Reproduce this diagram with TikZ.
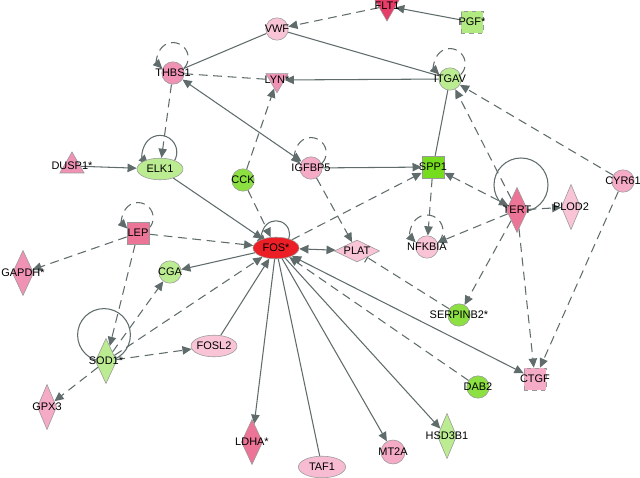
\documentclass[tikz,border=0pt]{standalone}
\usepackage{fontspec}
\setmainfont{Liberation Sans}
\usetikzlibrary{arrows.meta,shapes.geometric,backgrounds}
\definecolor{fosred}{RGB}{236,30,38}
\definecolor{fltred}{RGB}{230,62,104}
\definecolor{pkD}{RGB}{236,116,150}
\definecolor{pkC}{RGB}{240,146,180}
\definecolor{pkB}{RGB}{245,170,198}
\definecolor{pkA}{RGB}{248,196,214}
\definecolor{gnA}{RGB}{188,236,146}
\definecolor{gnB}{RGB}{140,224,66}
\definecolor{gnC}{RGB}{118,220,30}
\definecolor{edgegray}{RGB}{96,108,108}
% self loop above a node: [line style]{node}{radius}
\newcommand{\selfloop}[3][dl]{\draw[#1,->] ([yshift=#3]#2.center) ++(-45:#3) arc[start angle=-45,end angle=225,radius=#3];}

\begin{document}
\begin{tikzpicture}[x=0.025cm,y=-0.025cm,font=\fontsize{7.8}{9}\selectfont,
  >={Triangle[length=2.3mm,width=2.1mm]},
  g/.style={draw=black!40,line width=0.4pt,inner sep=0pt,label={[inner sep=0pt]center:#1}},
  circ/.style={g=#1,circle,minimum size=5.6mm},
  ell/.style={g=#1,ellipse,minimum width=11.5mm,minimum height=5.4mm},
  sq/.style={g=#1,rectangle,minimum size=5.5mm},
  dia/.style={g=#1,diamond,minimum width=5.3mm,minimum height=11.3mm},
  hdia/.style={g=#1,diamond,minimum width=11.3mm,minimum height=5.5mm},
  tri/.style={g=#1,regular polygon,regular polygon sides=3,minimum size=6.4mm},
  vtri/.style={tri=#1,shape border rotate=180},
  sl/.style={draw=edgegray,line width=0.75pt},
  dl/.style={sl,dash pattern=on 2.2mm off 1.4mm}]
  \useasboundingbox (0,0) rectangle (640,478);
  % top row
  \node[vtri=FLT1,fill=fltred,minimum size=7.5mm] (flt1) at (387,6) {};
  \node[sq=PGF*,fill=gnA!80!gnB,dashed] (pgf) at (472,22) {};
  \node[circ=VWF,fill=pkA] (vwf) at (277,29) {};
  \node[circ=THBS1,fill=pkC] (thbs1) at (173,73) {};
  \node[vtri=LYN*,fill=pkC] (lyn) at (277,80) {};
  \node[circ=ITGAV,fill=gnA] (itgav) at (450,79) {};
  % middle
  \node[tri=DUSP1*,fill=pkC,minimum size=7mm] (dusp1) at (72,166) {};
  \node[ell=ELK1,fill=gnA] (elk1) at (160,169) {};
  \node[circ=CCK,fill=gnB] (cck) at (243,180) {};
  \node[circ=IGFBP5,fill=pkB] (igfbp5) at (311,168) {};
  \node[sq=SPP1,fill=gnC] (spp1) at (433,167) {};
  \node[circ=CYR61,fill=pkB] (cyr61) at (623,181) {};
  \node[dia=TERT,fill=pkD] (tert) at (517,210) {};
  \node[dia=PLOD2,fill=pkA,minimum width=4.8mm] (plod2) at (571,207) {};
  \node[sq=LEP,fill=pkD] (lep) at (138,233) {};
  \node[ell=FOS*,fill=fosred] (fos) at (276,248) {};
  \node[hdia=PLAT,fill=pkA] (plat) at (357,251) {};
  \node[circ=NFKBIA,fill=pkA] (nfkbia) at (427,247) {};
  \node[dia=GAPDH*,fill=pkC] (gapdh) at (23,273) {};
  \node[circ=CGA,fill=gnA] (cga) at (170,272) {};
  % lower part
  \node[circ=SERPINB2*,fill=gnB] (serpinb2) at (459,315) {};
  \node[ell=FOSL2,fill=pkA] (fosl2) at (214,346) {};
  \node[dia=SOD1*,fill=gnA] (sod1) at (106,361) {};
  \node[sq=CTGF,fill=pkB,dashed] (ctgf) at (535,379) {};
  \node[circ=DAB2,fill=gnB] (dab2) at (478,387) {};
  \node[dia=GPX3,fill=pkB,minimum width=4.8mm] (gpx3) at (47,407) {};
  \node[dia=HSD3B1,fill=gnA,minimum width=4.8mm] (hsd3b1) at (447,436) {};
  \node[dia=LDHA*,fill=pkD] (ldha) at (252,442) {};
  \node[circ=MT2A,fill=pkB,minimum size=6mm] (mt2a) at (393,452) {};
  \node[ell=TAF1,fill=pkA!70!pkB,minimum width=11.8mm] (taf1) at (322,467) {};
  \begin{scope}[on background layer]
    \fill[white] (0,0) rectangle (640,478);
    % upper links
    \draw[sl,->] (pgf) -- (flt1);
    \draw[dl,->] (flt1) -- (vwf);
    \draw[sl] (vwf) -- (itgav);
    \draw[sl] (vwf) -- (thbs1);
    \draw[dl] (thbs1) -- (lyn);
    \draw[sl,->] (itgav) -- (lyn);
    \draw[sl,<->] (thbs1) -- (igfbp5);
    \draw[dl,->] (cck) -- (lyn);
    \draw[dl,->] (thbs1) -- (elk1);
    \draw[sl,->] (dusp1) -- (elk1);
    \draw[sl,->] (igfbp5) -- (spp1);
    \draw[dl,->] (igfbp5) -- (plat);
    \draw[sl] (itgav) -- (spp1);
    \draw[dl,->] (tert) -- (itgav);
    \draw[dl,->] (cyr61) -- (itgav);
    \draw[dl,<->] (spp1) -- (tert);
    \draw[dl,->] (spp1) -- (nfkbia);
    \draw[dl,->] (tert) -- (nfkbia);
    \draw[dl,->] (tert) -- (plod2);
    \draw[dl,->] (tert) -- (serpinb2);
    \draw[dl,->] (tert) -- (ctgf);
    \draw[dl,->] (cyr61) -- (ctgf);
    \draw[dl,-{Bar[width=2.8mm]}] (serpinb2) -- (plat);
    % links of FOS
    \draw[sl,->] (elk1) -- (fos);
    \draw[dl,->] (cck) -- (fos);
    \draw[dl,->] (lep) -- (fos);
    \draw[dl,->] (fos) -- (spp1);
    \draw[sl,<->] (fos) -- (plat);
    \draw[sl,->] (fos) -- (cga);
    \draw[dl,->] (sod1) -- (fos);
    \draw[sl,->] (fosl2) -- (fos);
    \draw[sl,->] (fos) -- (ldha);
    \draw[sl] (taf1) -- (fos);
    \draw[sl,->] (fos) -- (mt2a);
    \draw[sl,->] (fos) -- (hsd3b1);
    \draw[dl,->] (dab2) -- (fos);
    \draw[sl,<->] (fos) -- (ctgf);
    % LEP and SOD1
    \draw[dl,->] (lep) -- (gapdh);
    \draw[dl,->] (lep) -- (sod1);
    \draw[dl,->] (sod1) -- (cga);
    \draw[dl,->] (sod1) -- (fosl2);
    \draw[dl,->] (sod1) -- (gpx3);
    % self loops
    \selfloop{thbs1}{0.38cm}
    \selfloop{itgav}{0.38cm}
    \selfloop{igfbp5}{0.38cm}
    \selfloop{nfkbia}{0.4cm}
    \selfloop{lep}{0.38cm}
    \selfloop[sl]{elk1}{0.42cm}
    \selfloop[sl]{fos}{0.34cm}
    \draw[sl] ([xshift=0.1cm,yshift=0.625cm]tert.center) circle[radius=0.675cm];
    \draw[sl] ([xshift=-0.05cm,yshift=0.65cm]sod1.center) circle[radius=0.66cm];
  \end{scope}
\end{tikzpicture}
\end{document}
